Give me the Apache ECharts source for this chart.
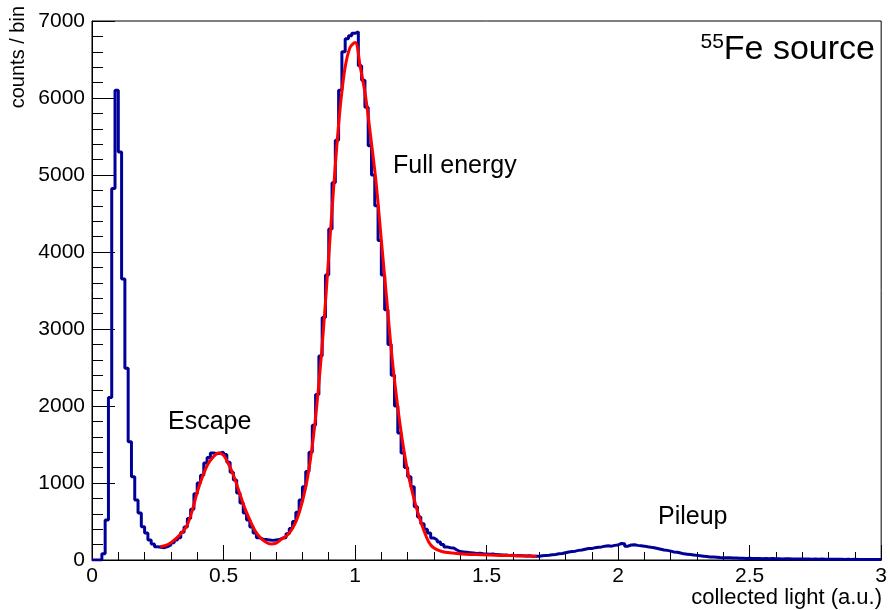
<!DOCTYPE html>
<html>
<head>
<meta charset="utf-8">
<script src="https://cdn.jsdelivr.net/npm/echarts@6/dist/echarts.min.js"></script>
<style>
  html, body { margin: 0; padding: 0; background: #fff; }
  #chart { width: 890px; height: 610px; }
</style>
</head>
<body>
<div id="chart"></div>
<script>
// ---- data ----
const binWidth = 0.0125; // histogram bin width (a.u.)
const counts = [
  0, 0, 0, 80, 520, 2110, 4825, 6100, 5300, 3650,
  2490, 1535, 1080, 778, 610, 432, 350, 260, 207, 173,
  165, 160, 175, 195, 225, 260, 290, 360, 430, 540,
  660, 860, 1000, 1100, 1260, 1330, 1390, 1380, 1390, 1400,
  1370, 1270, 1140, 1040, 870, 740, 610, 520, 430, 350,
  290, 270, 265, 260, 255, 260, 265, 285, 290, 340,
  410, 500, 620, 780, 950, 1150, 1400, 1750, 2150, 2650,
  3150, 3700, 4300, 4900, 5450, 6100, 6600, 6770, 6810, 6840,
  6860, 6420, 6230, 5880, 5380, 5000, 4600, 4150, 3700, 3250,
  2800, 2400, 2000, 1650, 1390, 1200, 1080, 950, 690, 560,
  470, 400, 350, 285, 260, 233, 200, 170, 160, 155,
  130, 110, 105, 100, 95, 90, 85, 88, 80, 78,
  75, 78, 70, 68, 65, 65, 60, 62, 55, 58,
  55, 52, 55, 50, 50, 48, 55, 60, 62, 68,
  72, 80, 85, 95, 105, 110, 115, 125, 130, 140,
  150, 148, 160, 165, 170, 180, 185, 180, 190, 195,
  215, 210, 180, 195, 198, 190, 185, 180, 172, 165,
  160, 150, 140, 130, 125, 115, 105, 100, 90, 80,
  75, 70, 65, 60, 55, 50, 45, 40, 38, 35,
  32, 30, 28, 30, 25, 26, 22, 24, 20, 22,
  20, 18, 20, 17, 18, 16, 18, 15, 16, 14,
  15, 16, 13, 14, 12, 14, 12, 13, 11, 12,
  10, 12, 10, 11, 9, 10, 9, 11, 8, 9,
  8, 9, 7, 8, 7, 8, 6, 7, 6, 7
];
const fitX = [0.26,0.28,0.30,0.32,0.34,0.36,0.38,0.40,0.42,0.44,0.46,0.48,0.50,0.52,0.54,0.56,0.58,0.60,0.62,0.64,0.66,0.68,0.70,0.72,0.74,0.76,0.78,0.80,0.82,0.84,0.86,0.88,0.90,0.92,0.94,0.96,0.98,1.00,1.02,1.04,1.06,1.08,1.10,1.12,1.14,1.16,1.18,1.20,1.22,1.24,1.26,1.28,1.30,1.33,1.37,1.42,1.48,1.55,1.62,1.69];
const fitY = [173,190,225,280,350,440,630,880,1080,1240,1335,1390,1360,1240,1080,880,680,520,380,290,235,207,218,270,315,400,540,760,1080,1550,2200,3000,3950,4900,5750,6350,6650,6720,6400,6020,5480,4900,4150,3400,2650,2050,1550,1150,850,600,400,235,155,110,90,75,68,60,55,50];
const xTickLabels = ['0', '0.5', '1', '1.5', '2', '2.5', '3'];
const yTickLabels = ['0', '1000', '2000', '3000', '4000', '5000', '6000', '7000'];
const annotations = ['Escape', 'Full energy', 'Pileup'];
const xTitle = 'collected light (a.u.)';
const yTitle = 'counts / bin';
const sourceLabel = ['55', 'Fe source'];

// ---- build ----
const histData = counts.map((v, i) => [i * binWidth, v]);
histData.push([counts.length * binWidth, counts[counts.length - 1]]);
const fitData = fitX.map((x, i) => [x, fitY[i]]);

const FONT = "'Liberation Sans', Arial, Helvetica, sans-serif";
const chart = echarts.init(document.getElementById('chart'), null, { renderer: 'canvas' });

chart.setOption({
  backgroundColor: '#ffffff',
  animation: false,
  textStyle: { fontFamily: FONT },
  grid: { left: 92, right: 6, top: 21, bottom: 50, show: true, borderColor: '#000', borderWidth: 1, containLabel: false },
  xAxis: {
    type: 'value', min: 0, max: 3, interval: 0.5,
    axisLine: { show: true, onZero: false, lineStyle: { color: '#000', width: 1 } },
    axisTick: { show: true, inside: true, length: 15, lineStyle: { color: '#000', width: 1 } },
    minorTick: { show: true, splitNumber: 5, length: 8, lineStyle: { color: '#000', width: 1 } },
    axisLabel: { color: '#000', fontSize: 21, fontFamily: FONT, margin: 6, showMinLabel: true, showMaxLabel: true,
      formatter: (v) => xTickLabels[Math.round(v / 0.5)] },
    splitLine: { show: false }
  },
  yAxis: {
    type: 'value', min: 0, max: 7000, interval: 1000,
    axisLine: { show: true, lineStyle: { color: '#000', width: 1 } },
    axisTick: { show: true, inside: true, length: 23, lineStyle: { color: '#000', width: 1 } },
    minorTick: { show: true, splitNumber: 5, length: 11, lineStyle: { color: '#000', width: 1 } },
    axisLabel: { color: '#000', fontSize: 21, fontFamily: FONT, margin: 7, showMinLabel: true, showMaxLabel: true,
      formatter: (v) => yTickLabels[Math.round(v / 1000)] },
    splitLine: { show: false }
  },
  series: [
    {
      type: 'line', step: 'end', data: histData, showSymbol: false, symbol: 'none',
      lineStyle: { color: '#000099', width: 3 }, z: 2, clip: true
    },
    {
      type: 'line', data: fitData, smooth: 0.35, showSymbol: false, symbol: 'none',
      lineStyle: { color: '#ff0000', width: 3 }, z: 3, clip: true
    }
  ],
  graphic: [
    { type: 'text', x: 168, y: 422, style: { text: annotations[0], font: '25px ' + FONT, fill: '#000', textAlign: 'left', textVerticalAlign: 'middle' } },
    { type: 'text', x: 393, y: 166, style: { text: annotations[1], font: '25px ' + FONT, fill: '#000', textAlign: 'left', textVerticalAlign: 'middle' } },
    { type: 'text', x: 658, y: 517, style: { text: annotations[2], font: '25px ' + FONT, fill: '#000', textAlign: 'left', textVerticalAlign: 'middle' } },
    { type: 'text', x: 882, y: 598, style: { text: xTitle, font: '22px ' + FONT, fill: '#000', textAlign: 'right', textVerticalAlign: 'middle' } },
    { type: 'text', x: 18, y: 6, rotation: Math.PI / 2, style: { text: yTitle, font: '20px ' + FONT, fill: '#000', textAlign: 'right', textVerticalAlign: 'middle' } },
    { type: 'text', x: 875, y: 50, style: {
        text: '{sup|' + sourceLabel[0] + '}{main|' + sourceLabel[1] + '}',
        textAlign: 'right', textVerticalAlign: 'middle',
        rich: {
          sup: { fontSize: 21, fontFamily: FONT, fill: '#000', color: '#000', verticalAlign: 'top', lineHeight: 36 },
          main: { fontSize: 34, fontFamily: FONT, fill: '#000', color: '#000', lineHeight: 36 }
        }
      } }
  ]
});
</script>
</body>
</html>
